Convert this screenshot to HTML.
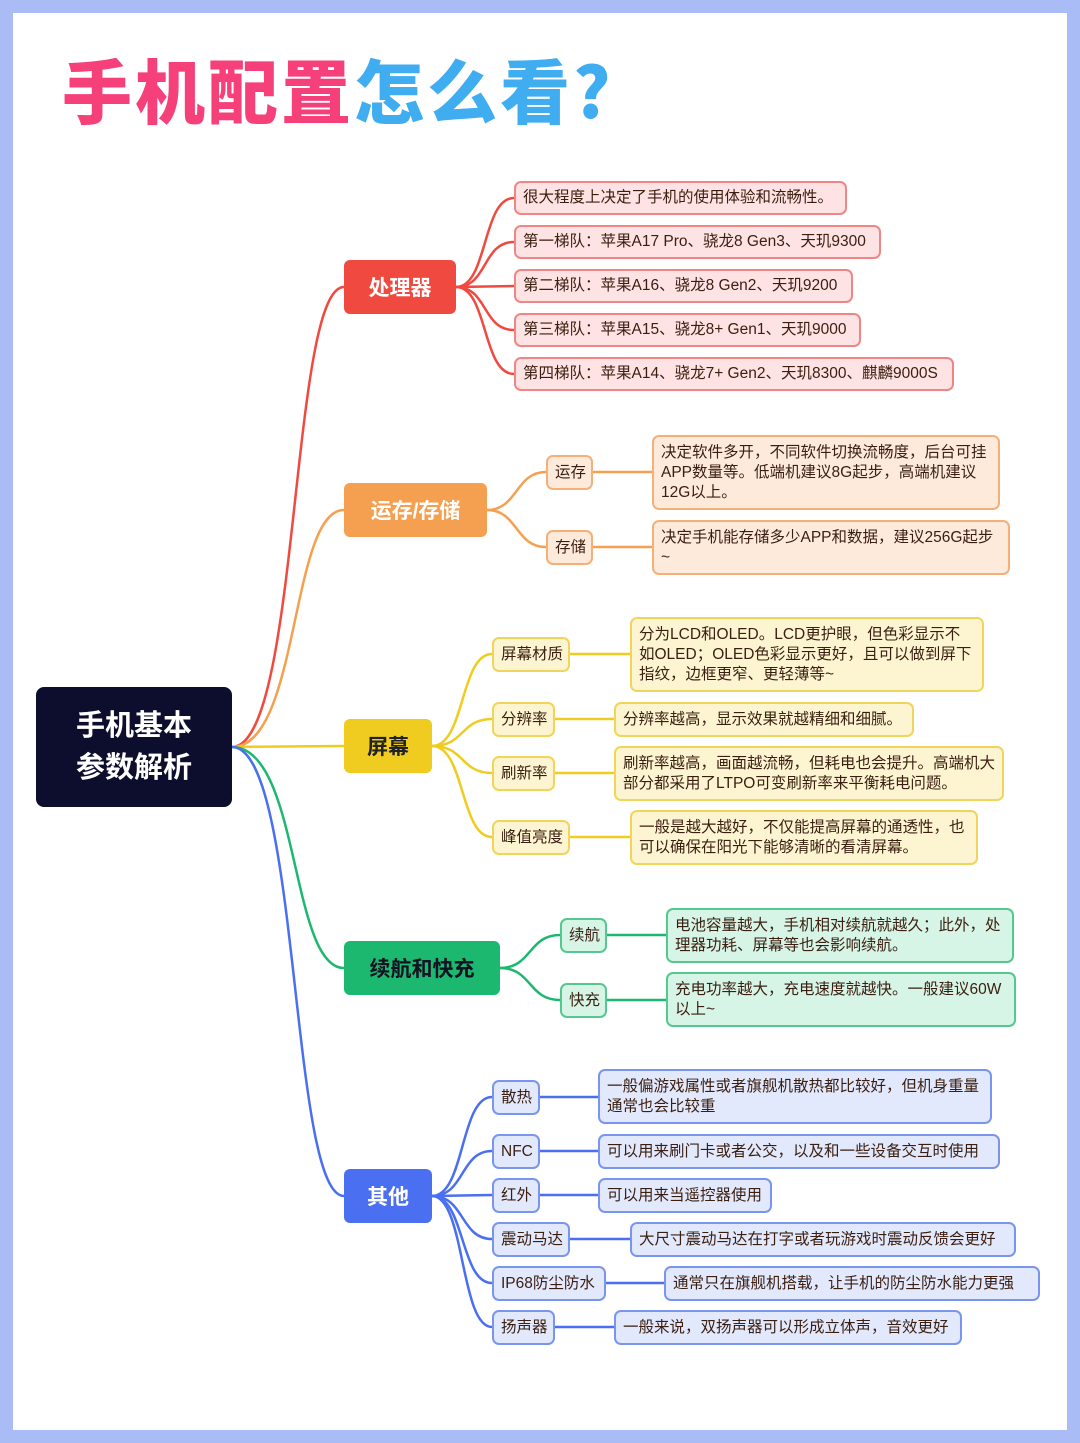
<!DOCTYPE html>
<html><head><meta charset="utf-8"><style>
*{margin:0;padding:0;box-sizing:border-box}
body{width:1080px;height:1443px;background:#a9bcf5;position:relative;overflow:hidden;font-family:"Liberation Sans","Noto Sans CJK SC",sans-serif}
#inner{position:absolute;left:13px;top:13px;width:1054px;height:1417px;background:#fff}
.t{position:absolute;font-size:70px;font-weight:900;top:38px;letter-spacing:3px;font-family:"Noto Sans CJK SC",sans-serif}
.n{position:absolute;display:flex;align-items:center;justify-content:center;font-weight:bold;border-radius:6px;font-size:21px;color:#fff}
.b{position:absolute;border:2px solid;border-radius:7px;font-size:15.5px;line-height:20px;padding:5px 7px;color:#3a1e10;display:flex;align-items:center;white-space:nowrap}
.r{background:#fde3e3;border-color:#f08585}
.o{background:#feeadb;border-color:#f5b07a}
.y{background:#fdf5d2;border-color:#f0d55a}
.g{background:#d7f5e6;border-color:#55c88f}
.bl{background:#e2e9fd;border-color:#7a95ee}
svg{position:absolute;left:0;top:0}
</style></head><body>
<div id="inner"></div>
<div class="t" style="left:62px;color:#f5407a">手机配置<span style="color:#3fadf0">怎么看?</span></div>
<svg width="1080" height="1443" fill="none" stroke-width="2.5">
<g stroke="#f04a40"><path d="M232 747 C300 747 290 287 344 287"/>
<path d="M456 287 C488 287 482 198 514 198"/><path d="M456 287 C488 287 482 242 514 242"/><path d="M456 287 L514 286"/><path d="M456 287 C488 287 482 330 514 330"/><path d="M456 287 C488 287 482 374 514 374"/></g>
<g stroke="#f5a050"><path d="M232 747 C300 747 290 510 344 510"/>
<path d="M487 510 C518 510 515 472 546 472"/><path d="M487 510 C518 510 515 547 546 547"/><path d="M593 472 L652 472"/><path d="M593 547 L652 547"/></g>
<g stroke="#f0cc20"><path d="M232 747 L344 746"/>
<path d="M432 746 C465 746 460 654 492 654"/><path d="M432 746 C465 746 460 719 492 719"/><path d="M432 746 C465 746 460 773 492 773"/><path d="M432 746 C465 746 460 837 492 837"/>
<path d="M570 654 L630 654"/><path d="M555 719 L614 719"/><path d="M555 773 L614 773"/><path d="M570 837 L630 837"/></g>
<g stroke="#1db870"><path d="M232 747 C300 747 290 968 344 968"/>
<path d="M500 968 C532 968 528 935 560 935"/><path d="M500 968 C532 968 528 1000 560 1000"/><path d="M607 935 L666 935"/><path d="M607 1000 L666 1000"/></g>
<g stroke="#4a6ff0"><path d="M232 747 C300 747 290 1196 344 1196"/>
<path d="M432 1196 C465 1196 460 1097 492 1097"/><path d="M432 1196 C465 1196 460 1151 492 1151"/><path d="M432 1196 L492 1195"/><path d="M432 1196 C465 1196 460 1239 492 1239"/><path d="M432 1196 C465 1196 460 1283 492 1283"/><path d="M432 1196 C465 1196 460 1327 492 1327"/>
<path d="M540 1097 L598 1097"/><path d="M540 1151 L598 1151"/><path d="M540 1195 L598 1195"/><path d="M570 1239 L630 1239"/><path d="M606 1283 L664 1283"/><path d="M555 1327 L614 1327"/></g>
</svg>
<div class="n" style="left:36px;top:687px;width:196px;height:120px;background:#0d0e2e;font-size:29px;line-height:42px;text-align:center;border-radius:8px">手机基本<br>参数解析</div>
<div class="n" style="left:344px;top:260px;width:112px;height:54px;background:#f04a40">处理器</div>
<div class="n" style="left:344px;top:483px;width:143px;height:54px;background:#f5a050">运存/存储</div>
<div class="n" style="left:344px;top:719px;width:88px;height:54px;background:#f0cc20;color:#222">屏幕</div>
<div class="n" style="left:344px;top:941px;width:156px;height:54px;background:#1db870;color:#112">续航和快充</div>
<div class="n" style="left:344px;top:1169px;width:88px;height:54px;background:#4a6ff0">其他</div>

<div class="b r" style="left:514px;top:181px;width:333px;height:34px">很大程度上决定了手机的使用体验和流畅性。</div>
<div class="b r" style="left:514px;top:225px;width:367px;height:34px">第一梯队：苹果A17 Pro、骁龙8 Gen3、天玑9300</div>
<div class="b r" style="left:514px;top:269px;width:339px;height:34px">第二梯队：苹果A16、骁龙8 Gen2、天玑9200</div>
<div class="b r" style="left:514px;top:313px;width:347px;height:34px">第三梯队：苹果A15、骁龙8+ Gen1、天玑9000</div>
<div class="b r" style="left:514px;top:357px;width:440px;height:34px">第四梯队：苹果A14、骁龙7+ Gen2、天玑8300、麒麟9000S</div>

<div class="b o" style="left:546px;top:455px;width:47px;height:35px">运存</div>
<div class="b o" style="left:546px;top:530px;width:47px;height:35px">存储</div>
<div class="b o" style="left:652px;top:435px;width:348px;height:75px;white-space:normal">决定软件多开，不同软件切换流畅度，后台可挂APP数量等。低端机建议8G起步，高端机建议12G以上。</div>
<div class="b o" style="left:652px;top:520px;width:358px;height:55px;white-space:normal">决定手机能存储多少APP和数据，建议256G起步~</div>

<div class="b y" style="left:492px;top:637px;width:78px;height:35px">屏幕材质</div>
<div class="b y" style="left:492px;top:702px;width:63px;height:35px">分辨率</div>
<div class="b y" style="left:492px;top:756px;width:63px;height:35px">刷新率</div>
<div class="b y" style="left:492px;top:820px;width:78px;height:35px">峰值亮度</div>
<div class="b y" style="left:630px;top:617px;width:354px;height:75px;white-space:normal">分为LCD和OLED。LCD更护眼，但色彩显示不如OLED；OLED色彩显示更好，且可以做到屏下指纹，边框更窄、更轻薄等~</div>
<div class="b y" style="left:614px;top:702px;width:300px;height:35px">分辨率越高，显示效果就越精细和细腻。</div>
<div class="b y" style="left:614px;top:746px;width:390px;height:55px;white-space:normal">刷新率越高，画面越流畅，但耗电也会提升。高端机大部分都采用了LTPO可变刷新率来平衡耗电问题。</div>
<div class="b y" style="left:630px;top:810px;width:348px;height:55px;white-space:normal">一般是越大越好，不仅能提高屏幕的通透性，也可以确保在阳光下能够清晰的看清屏幕。</div>

<div class="b g" style="left:560px;top:918px;width:47px;height:35px">续航</div>
<div class="b g" style="left:560px;top:983px;width:47px;height:35px">快充</div>
<div class="b g" style="left:666px;top:908px;width:348px;height:55px;white-space:normal">电池容量越大，手机相对续航就越久；此外，处理器功耗、屏幕等也会影响续航。</div>
<div class="b g" style="left:666px;top:972px;width:350px;height:55px;white-space:normal">充电功率越大，充电速度就越快。一般建议60W以上~</div>

<div class="b bl" style="left:492px;top:1080px;width:48px;height:35px">散热</div>
<div class="b bl" style="left:492px;top:1134px;width:48px;height:35px">NFC</div>
<div class="b bl" style="left:492px;top:1178px;width:48px;height:35px">红外</div>
<div class="b bl" style="left:492px;top:1222px;width:78px;height:35px">震动马达</div>
<div class="b bl" style="left:492px;top:1266px;width:114px;height:35px">IP68防尘防水</div>
<div class="b bl" style="left:492px;top:1310px;width:63px;height:35px">扬声器</div>
<div class="b bl" style="left:598px;top:1069px;width:394px;height:55px;white-space:normal">一般偏游戏属性或者旗舰机散热都比较好，但机身重量通常也会比较重</div>
<div class="b bl" style="left:598px;top:1134px;width:402px;height:35px">可以用来刷门卡或者公交，以及和一些设备交互时使用</div>
<div class="b bl" style="left:598px;top:1178px;width:174px;height:35px">可以用来当遥控器使用</div>
<div class="b bl" style="left:630px;top:1222px;width:386px;height:35px">大尺寸震动马达在打字或者玩游戏时震动反馈会更好</div>
<div class="b bl" style="left:664px;top:1266px;width:376px;height:35px">通常只在旗舰机搭载，让手机的防尘防水能力更强</div>
<div class="b bl" style="left:614px;top:1310px;width:348px;height:35px">一般来说，双扬声器可以形成立体声，音效更好</div>
</body></html>
